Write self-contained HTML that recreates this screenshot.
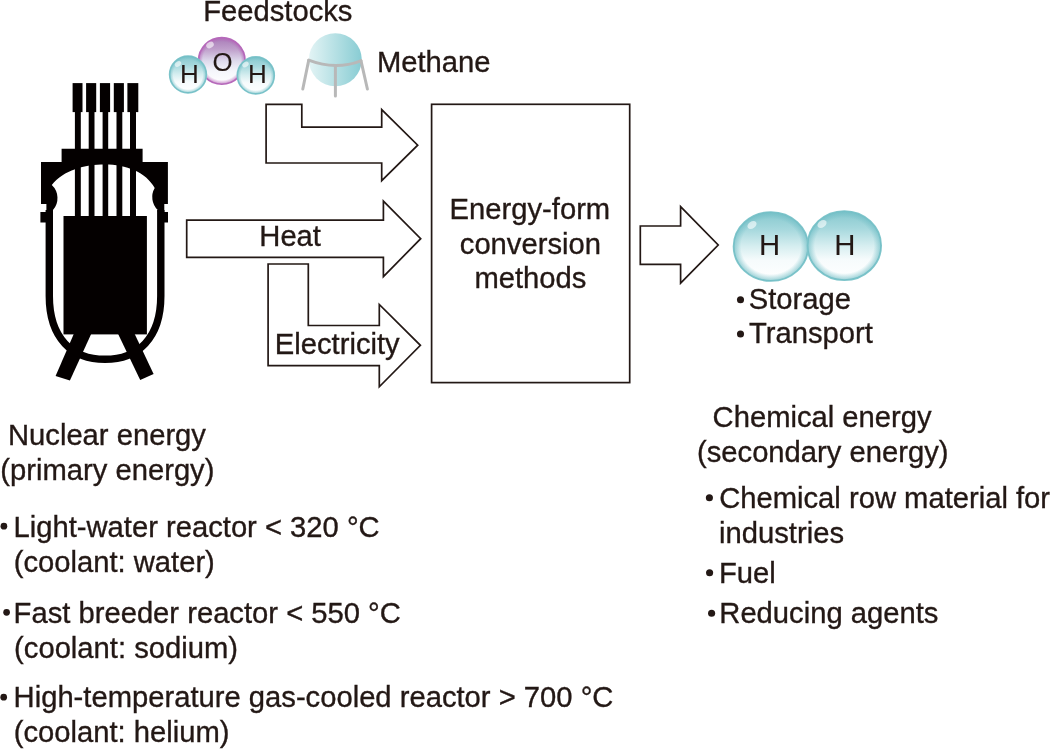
<!DOCTYPE html>
<html><head><meta charset="utf-8">
<style>
html,body{margin:0;padding:0;background:#fff;}
body{width:1051px;height:749px;overflow:hidden;}
svg{display:block;will-change:transform;}
text{font-family:"Liberation Sans",sans-serif;fill:#231815;stroke:#231815;stroke-width:0.35px;}
</style></head>
<body>
<svg width="1051" height="749" viewBox="0 0 1051 749">
<defs>
  <linearGradient id="gH" x1="0" y1="0" x2="0" y2="1">
    <stop offset="0" stop-color="#86c8ce"/>
    <stop offset="0.25" stop-color="#a6d8dd"/>
    <stop offset="0.5" stop-color="#d6eef0"/>
    <stop offset="0.7" stop-color="#f6fbfc"/>
    <stop offset="1" stop-color="#ffffff"/>
  </linearGradient>
  <radialGradient id="gRim" cx="0.5" cy="0.5" r="0.5">
    <stop offset="0.8" stop-color="#6dbcc4" stop-opacity="0"/>
    <stop offset="1" stop-color="#6dbcc4" stop-opacity="0.7"/>
  </radialGradient>
  <linearGradient id="gO" x1="0" y1="0" x2="0" y2="1">
    <stop offset="0" stop-color="#a87bb7"/>
    <stop offset="0.25" stop-color="#bf9fcb"/>
    <stop offset="0.5" stop-color="#dedaec"/>
    <stop offset="0.72" stop-color="#f5f6fb"/>
    <stop offset="1" stop-color="#ffffff"/>
  </linearGradient>
  <radialGradient id="gRimO" cx="0.5" cy="0.5" r="0.5">
    <stop offset="0.82" stop-color="#b565b9" stop-opacity="0"/>
    <stop offset="1" stop-color="#b565b9" stop-opacity="0.75"/>
  </radialGradient>
  <linearGradient id="gM" x1="0" y1="0" x2="1" y2="0">
    <stop offset="0" stop-color="#e3f4f5"/>
    <stop offset="1" stop-color="#88ccd3"/>
  </linearGradient>
</defs>

<!-- ===== Reactor ===== -->
<g fill="#040000">
  <!-- rod heads -->
  <rect x="72.6" y="83.1" width="9.9" height="29"/>
  <rect x="86.1" y="83.1" width="10.1" height="29"/>
  <rect x="99.9" y="83.1" width="10.2" height="29"/>
  <rect x="113.8" y="83.1" width="10.1" height="29"/>
  <rect x="127.4" y="83.1" width="10.9" height="29"/>
  <!-- rods -->
  <rect x="74.9" y="111" width="5.9" height="106"/>
  <rect x="88.7" y="111" width="5.8" height="106"/>
  <rect x="102.6" y="111" width="5.6" height="106"/>
  <rect x="116.5" y="111" width="5.8" height="106"/>
  <rect x="130" y="111" width="6" height="106"/>
  <!-- head / flange with dome cut-out -->
  <path d="M61.6,148.7 H142.6 V162.1 H167.9 V204 H164.3 V212 H157.7 V210
           A18 18 0 0 1 154.7,188
           C146,172 126,164.5 105,164.5 C84,164.5 64,170 51.8,185
           A18 18 0 0 1 53,210
           V212 H46.4 V204 H41 V162.1 H61.6 Z"/>
  <!-- flange tabs -->
  <rect x="40.4" y="212" width="8" height="10.5"/>
  <rect x="160" y="212" width="8" height="10.5"/>
  <!-- core -->
  <rect x="63.5" y="216" width="83.4" height="118.4"/>
  <!-- legs -->
  <polygon points="75.5,330 93,330 69.9,380.6 55.6,375.9"/>
  <polygon points="116.2,330 132.8,330 153.6,373.9 140.2,379.9"/>
</g>
<!-- vessel wall -->
<path d="M49.3,210 V296 C49.3,338 72,359.3 105,359.3 C138,359.3 160.8,338 160.8,296 V210" fill="none" stroke="#040000" stroke-width="7.4"/>

<!-- ===== Arrows & box ===== -->
<g fill="#fff" stroke="#231815" stroke-width="1.7" stroke-linejoin="miter">
  <path d="M266.1,104.4 H301.8 V127.2 H381.7 V109.6 L417.7,145.2 L381.7,180.6 V163 H266.1 Z"/>
  <path d="M186.7,220.2 H383.4 V201.1 L420.7,238.7 L383.4,276.6 V257.3 H186.7 Z"/>
  <path d="M268.1,264 H308.3 V325.5 H379.3 V304.5 L420.4,345.3 L379.3,386.8 V365.6 H268.1 Z"/>
  <rect x="431.6" y="104.3" width="198.1" height="278.3"/>
  <path d="M640.3,226 H680.6 V206.7 L718.2,245 L680.6,283.2 V264.3 H640.3 Z"/>
</g>

<!-- ===== Molecules ===== -->
<!-- H2O -->
<g>
  <circle cx="221.8" cy="60.9" r="23.3" fill="url(#gO)" stroke="#b66bbb" stroke-width="1.6"/>
  <circle cx="221.8" cy="60.9" r="23.3" fill="url(#gRimO)"/>
  <ellipse cx="210" cy="45" rx="4" ry="3" fill="#fff" opacity="0.6" transform="rotate(-30 210 45)"/>
  <circle cx="188" cy="74.5" r="18.4" fill="url(#gH)" stroke="#7fc5cb" stroke-width="1.6"/>
  <circle cx="188" cy="74.5" r="18.4" fill="url(#gRim)"/>
  <ellipse cx="178" cy="64" rx="3.5" ry="2.5" fill="#fff" opacity="0.6" transform="rotate(-35 178 64)"/>
  <circle cx="255.8" cy="75.4" r="18.5" fill="url(#gH)" stroke="#7fc5cb" stroke-width="1.6"/>
  <circle cx="255.8" cy="75.4" r="18.5" fill="url(#gRim)"/>
  <ellipse cx="245.5" cy="64.5" rx="3.5" ry="2.5" fill="#fff" opacity="0.6" transform="rotate(-35 245.5 64.5)"/>
  <text x="180.1" y="83.1" font-size="26" style="stroke-width:0.1px">H</text>
  <text x="212.6" y="70.5" font-size="25.8" style="stroke-width:0.1px">O</text>
  <text x="247.9" y="82.6" font-size="26" style="stroke-width:0.1px">H</text>
</g>
<!-- Methane -->
<g>
  <circle cx="335.3" cy="59.7" r="26.5" fill="url(#gM)"/>
  <g fill="none" stroke="#b8b8b8" stroke-width="3" stroke-linecap="round" stroke-linejoin="round">
    <path d="M308.7,60.2 Q335.4,70.5 361,60.8"/>
    <path d="M308.7,60.2 L302.8,89"/>
    <path d="M335.4,65.6 V96"/>
    <path d="M361,60.8 L367.4,89"/>
  </g>
</g>
<!-- H2 -->
<g>
  <ellipse cx="770.9" cy="246.5" rx="37.3" ry="34.4" fill="url(#gH)" stroke="#7fc5cb" stroke-width="1.8"/>
  <ellipse cx="770.9" cy="246.5" rx="37.3" ry="34.4" fill="url(#gRim)"/>
  <ellipse cx="752" cy="225" rx="5" ry="3.5" fill="#fff" opacity="0.6" transform="rotate(-35 752 225)"/>
  <ellipse cx="844.3" cy="245.6" rx="36.8" ry="34.5" fill="url(#gH)" stroke="#7fc5cb" stroke-width="1.8"/>
  <ellipse cx="844.3" cy="245.6" rx="36.8" ry="34.5" fill="url(#gRim)"/>
  <ellipse cx="822" cy="224" rx="5" ry="3.5" fill="#fff" opacity="0.6" transform="rotate(-35 822 224)"/>
  <text x="759.1" y="255" font-size="29.3" style="stroke-width:0.1px">H</text>
  <text x="834.3" y="255" font-size="29.3" style="stroke-width:0.1px">H</text>
</g>

<!-- ===== Text ===== -->
<g font-size="29.2">
  <text x="203.2" y="21">Feedstocks</text>
  <text x="376.9" y="72">Methane</text>
  <text x="259.3" y="246.4">Heat</text>
  <text x="274.8" y="353.5">Electricity</text>
  <text x="449.6" y="218.5">Energy-form</text>
  <text x="459.8" y="253.5">conversion</text>
  <text x="474.4" y="288">methods</text>
  <text x="748.8" y="309.2">Storage</text>
  <text x="749.1" y="343.2">Transport</text>
  <text x="712.6" y="427.3">Chemical energy</text>
  <text x="697" y="462">(secondary energy)</text>
  <text x="719.2" y="508">Chemical row material for</text>
  <text x="719.1" y="542.8">industries</text>
  <text x="718.9" y="582.8">Fuel</text>
  <text x="719.3" y="622.8">Reducing agents</text>
  <text x="8" y="445">Nuclear energy</text>
  <text x="0.35" y="479.9">(primary energy)</text>
  <text x="13.5" y="537">Light-water reactor &lt; 320 °C</text>
  <text x="13.7" y="571.8">(coolant: water)</text>
  <text x="13.6" y="622.9">Fast breeder reactor &lt; 550 °C</text>
  <text x="14.1" y="657.5">(coolant: sodium)</text>
  <text x="13.6" y="707.3">High-temperature gas-cooled reactor &gt; 700 °C</text>
  <text x="13.7" y="742.1">(coolant: helium)</text>
</g>
<!-- bullets -->
<g fill="#231815">
  <circle cx="740.5" cy="299.8" r="3.55"/>
  <circle cx="740.5" cy="334" r="3.55"/>
  <circle cx="709.4" cy="497.7" r="3.55"/>
  <circle cx="709.6" cy="572.8" r="3.55"/>
  <circle cx="711.6" cy="613.3" r="3.55"/>
  <circle cx="3.9" cy="526.2" r="3.35"/>
  <circle cx="6.6" cy="612.3" r="3.35"/>
  <circle cx="3.7" cy="697.2" r="3.35"/>
</g>
</svg>
</body></html>
